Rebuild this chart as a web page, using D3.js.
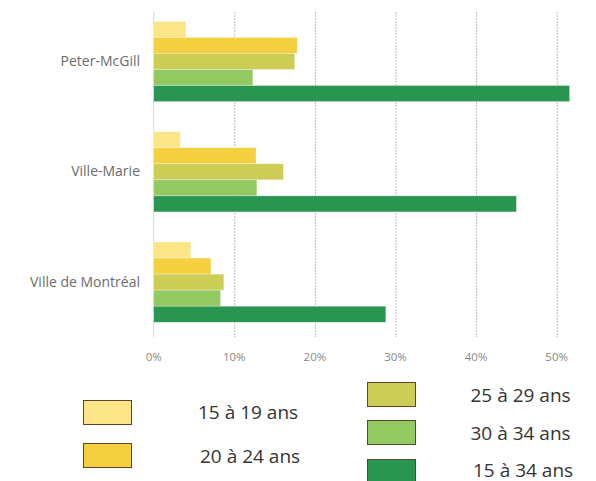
<!DOCTYPE html>
<html>
<head>
<meta charset="utf-8">
<script src="https://cdn.jsdelivr.net/npm/d3@7"></script>
<style>
  body { margin: 0; background: #fff; }
  svg { display: block; font-family: "Open Sans", sans-serif; }
</style>
</head>
<body>
<svg id="chart" width="596" height="481"></svg>
<script>
const categories = ["Peter-McGill", "Ville-Marie", "Ville de Montréal"];
const seriesNames = ["15 à 19 ans", "20 à 24 ans", "25 à 29 ans", "30 à 34 ans", "15 à 34 ans"];
const seriesColors = ["#fce587", "#f4cf40", "#cdcd56", "#92ca61", "#2a9550"];
const s1519 = [4.0, 3.3, 4.6];
const s2024 = [17.8, 12.7, 7.1];
const s2529 = [17.5, 16.1, 8.7];
const s3034 = [12.3, 12.8, 8.3];
const s1534 = [51.6, 45.0, 28.8];
const xTicks = [0, 10, 20, 30, 40, 50];

const seriesValues = [s1519, s2024, s2529, s3034, s1534];
const svg = d3.select("#chart");

const x = d3.scaleLinear().domain([0, 50]).range([153.7, 556.7]);
const y0 = d3.scaleBand().domain(categories).range([6.3, 337.3]).paddingInner(30 / 110).paddingOuter(15 / 110);
const y1 = d3.scaleBand().domain(seriesNames).range([0, y0.bandwidth()]);

// gridlines
svg.append("g").selectAll("line").data(xTicks.slice(1)).join("line")
  .attr("x1", d => x(d) + 0.5).attr("x2", d => x(d) + 0.5)
  .attr("y1", 12).attr("y2", 337)
  .attr("stroke", "#bbb").attr("stroke-width", 1).attr("stroke-dasharray", "2,1");

// baseline
svg.append("line").attr("x1", x(0)).attr("x2", x(0)).attr("y1", 12).attr("y2", 337)
  .attr("stroke", "#d6d6d6").attr("stroke-width", 1);

// bars
const groups = svg.append("g").selectAll("g").data(categories).join("g")
  .attr("transform", d => `translate(0,${y0(d)})`);
groups.selectAll("rect").data((c, ci) => seriesNames.map((s, si) => ({ s, si, v: seriesValues[si][ci] })))
  .join("rect")
  .attr("x", x(0))
  .attr("y", d => y1(d.s))
  .attr("width", d => x(d.v) - x(0))
  .attr("height", y1.bandwidth())
  .attr("fill", d => seriesColors[d.si])
  .attr("stroke", "#fff").attr("stroke-opacity", 0.5).attr("stroke-width", 0.6);

// category labels
svg.append("g").selectAll("text").data(categories).join("text")
  .attr("x", 140).attr("y", d => y0(d) + y0.bandwidth() / 2 + 4.5)
  .attr("text-anchor", "end")
  .attr("fill", "#6b6b6b").attr("font-size", 14)
  .text(d => d);

// x tick labels
svg.append("g").selectAll("text").data(xTicks).join("text")
  .attr("x", d => x(d)).attr("y", 360.5)
  .attr("text-anchor", "middle").attr("fill", "#888").attr("font-size", 11.5)
  .text(d => d + "%");

// legend
const legendPos = [
  { sx: 83, sy: 400, tx: 198, ty: 418.5 },
  { sx: 83, sy: 443, tx: 200, ty: 462.5 },
  { sx: 367, sy: 382, tx: 470.5, ty: 401.5 },
  { sx: 367, sy: 420, tx: 470.5, ty: 439.5 },
  { sx: 367, sy: 459, tx: 473, ty: 476.5 }
];
const leg = svg.append("g").selectAll("g").data(seriesNames).join("g");
leg.append("rect")
  .attr("x", (d, i) => legendPos[i].sx + 0.5).attr("y", (d, i) => legendPos[i].sy + 0.5)
  .attr("width", 48).attr("height", 24)
  .attr("fill", (d, i) => seriesColors[i]).attr("stroke", "#5e4327").attr("stroke-width", 1);
leg.append("text")
  .attr("x", (d, i) => legendPos[i].tx).attr("y", (d, i) => legendPos[i].ty)
  .attr("fill", "#333").attr("font-size", 19)
  .text(d => d);
</script>
</body>
</html>
